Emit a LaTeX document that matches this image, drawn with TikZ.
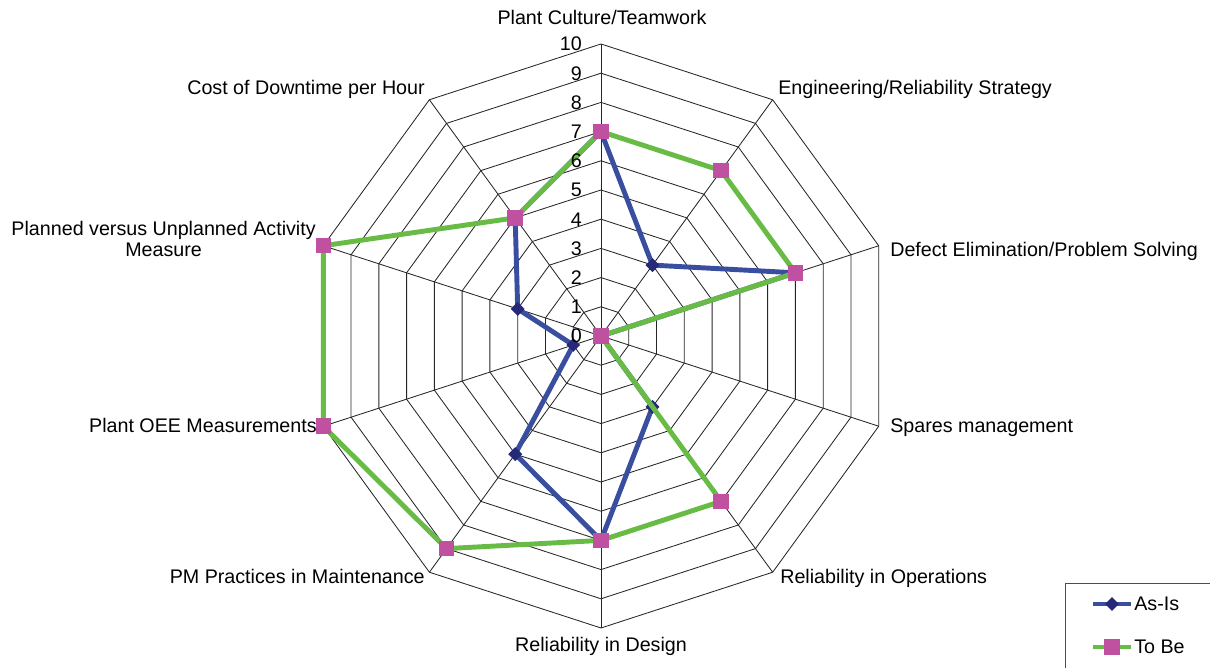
\documentclass[tikz,border=0pt]{standalone}
\usepackage{fontspec}
\setmainfont{Liberation Sans}
\usetikzlibrary{positioning}
\definecolor{asisblue}{RGB}{58,78,160}
\definecolor{asisdark}{RGB}{38,40,120}
\definecolor{tobegreen}{RGB}{104,188,70}
\definecolor{tobepink}{RGB}{192,80,160}
\tikzset{grid/.style = {draw = black!85, line width = 0.6pt}}
\tikzset{asis/.style = {draw = asisblue, line width = 3.5pt, line join = round}}
\tikzset{tobe/.style = {draw = tobegreen, line width = 3.5pt, line join = round}}
\tikzset{diam/.style = {fill = asisdark, rectangle, rotate = 45, inner sep = 0, minimum size = 7pt}}
\tikzset{sq/.style = {fill = tobepink, rectangle, inner sep = 0, minimum size = 11pt}}
\tikzset{lbl/.style = {font = \fontsize{14}{15.6}\selectfont, inner sep = 0}}

\begin{document}
\begin{tikzpicture}[x = 0.025cm, y = 0.025cm]
      \useasboundingbox (0, 0) rectangle (1210, 668);

      \begin{scope}[shift = {(601, 332)}]
        \coordinate (O) at (0, 0);
        % rings and spokes
        \foreach \k in {1, ..., 10}
          \draw [grid] (90:\k*29.2) \foreach \a in {54, 18, ..., -234} { -- (\a:\k*29.2)} -- cycle;
        \foreach \a [count = \i] in {90, 54, ..., -234} {
          \coordinate (s\i) at (\a:292);
          \draw [grid] (O) -- (s\i);
        }

        % data
        \foreach \v [count = \i] in {7, 3, 7, 0, 3, 7, 5, 1, 3, 5}
          \coordinate (asis\i) at ({90 - 36*(\i - 1)}:{\v*29.2});
        \foreach \v [count = \i] in {7, 7, 7, 0, 7, 7, 9, 10, 10, 5}
          \coordinate (tobe\i) at ({90 - 36*(\i - 1)}:{\v*29.2});

        \draw [asis] (asis1) \foreach \i in {2, ..., 10} { -- (asis\i)} -- cycle;
        \foreach \i in {1, ..., 10}
          \node [diam] (asism\i) at (asis\i) {};
        \draw [tobe] (tobe1) \foreach \i in {2, ..., 10} { -- (tobe\i)} -- cycle;
        \foreach \i in {1, ..., 10}
          \node [sq] (tobem\i) at (tobe\i) {};

        % scale
        \foreach \k in {0, ..., 10}
          \node [lbl, anchor = base east] (n\k) at (-19, {\k*29.2 - 7}) {\k};
      \end{scope}

      % axis labels
      \node [lbl, anchor = base] (lab1) at (602, 643) {Plant Culture/Teamwork};
      \node [lbl, anchor = base west] (lab2) at (778, 573) {Engineering/Reliability Strategy};
      \node [lbl, anchor = base west] (lab3) at (890, 411) {Defect Elimination/Problem Solving};
      \node [lbl, anchor = base west] (lab4) at (890, 235) {Spares management};
      \node [lbl, anchor = base west] (lab5) at (780, 84) {Reliability in Operations};
      \node [lbl, anchor = base] (lab6) at (601, 16) {Reliability in Design};
      \node [lbl, anchor = base east] (lab7) at (425, 84) {PM Practices in Maintenance};
      \node [lbl, anchor = base east] (lab8) at (317, 235) {Plant OEE Measurements};
      \node [lbl, anchor = east, align = center] (lab9) at (316, 429) {Planned versus Unplanned Activity\\Measure};
      \node [lbl, anchor = base east] (lab10) at (425, 573) {Cost of Downtime per Hour};

      % legend
      \draw [black!70, line width = 0.6pt] (1065, -10) |- (1230, 85);
      \coordinate (leg1a) at (1093, 64);
      \coordinate (leg1b) at (1131, 64);
      \draw [asis] (leg1a) -- (leg1b);
      \node [diam] (legm1) at (1112, 64) {};
      \node [lbl, anchor = west] (legasis) at (1134, 64) {As-Is};
      \coordinate (leg2a) at (1093, 21);
      \coordinate (leg2b) at (1131, 21);
      \draw [tobe] (leg2a) -- (leg2b);
      \node [sq] (legm2) at (1112, 21) {};
      \node [lbl, anchor = west] (legtobe) at (1134, 21) {To Be};
    \end{tikzpicture}
\end{document}
